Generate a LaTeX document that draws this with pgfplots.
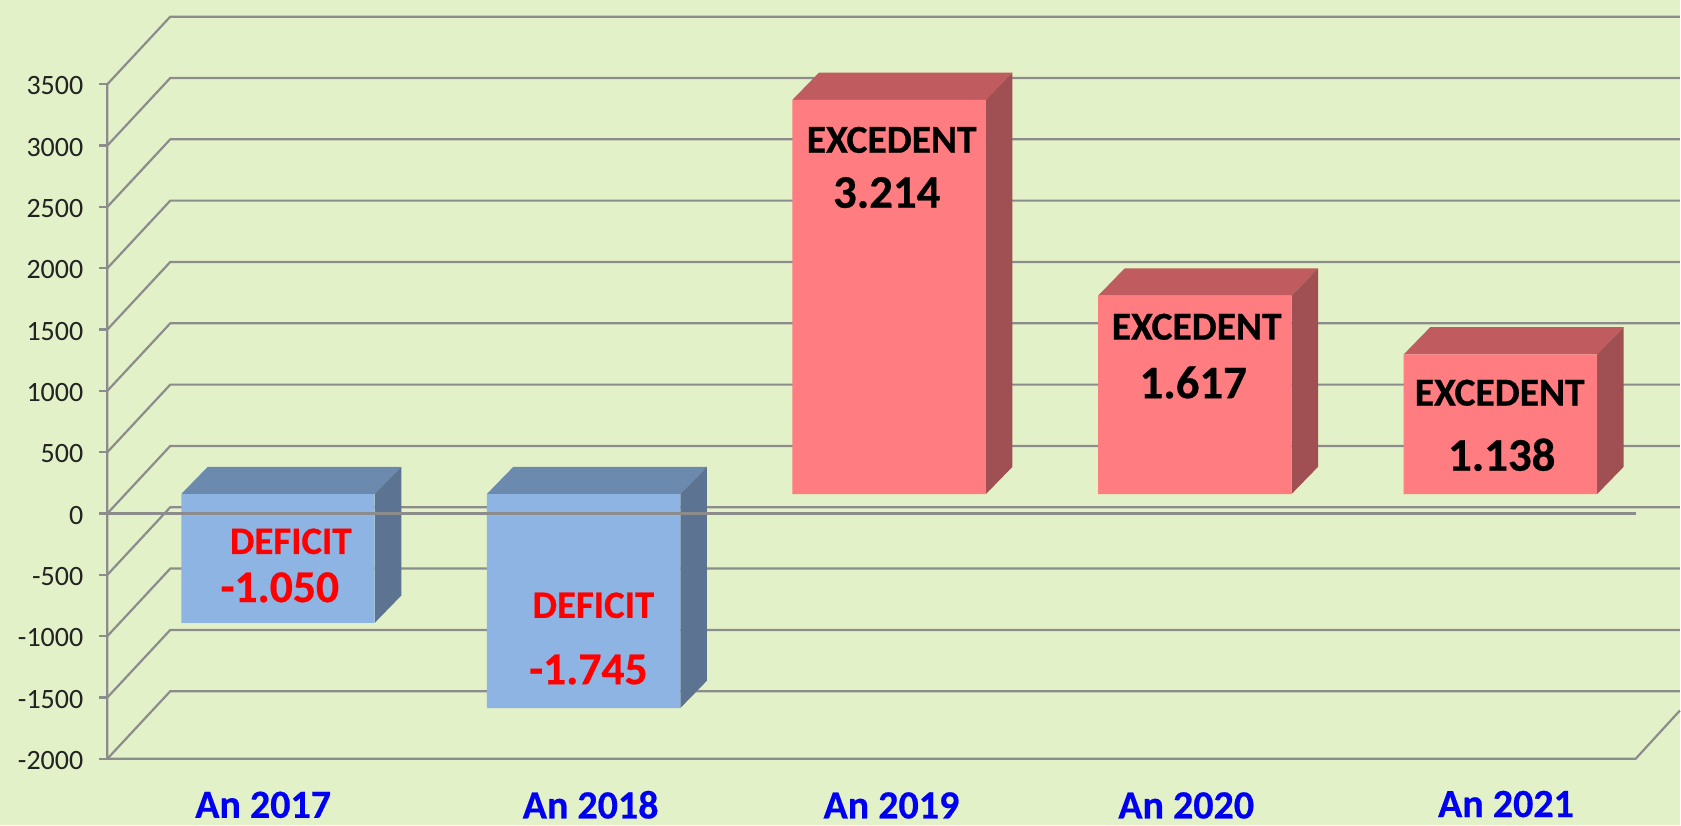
\documentclass[border=0pt]{standalone}
\usepackage{pgfplots}
\pgfplotsset{compat=1.18}
\usepackage{fontspec}
\setmainfont[BoldFeatures={FakeBold=0.5}]{Carlito}
\definecolor{bg}{HTML}{E3F1C8}
\definecolor{gridc}{HTML}{8C8C8C}
\definecolor{blF}{HTML}{8DB4E3}
\definecolor{blT}{HTML}{6C89AE}
\definecolor{blS}{HTML}{5C7492}
\definecolor{reF}{HTML}{FF7C80}
\definecolor{reT}{HTML}{C05C5F}
\definecolor{reS}{HTML}{A04F52}
\definecolor{tick}{HTML}{222222}
\definecolor{blueT}{HTML}{0000F0}
\pgfplotsset{shb/.style={yshift=9.75pt}}
% grid level: front value, back value
\newcommand{\gl}[2]{\addplot[gridc,line width=1.1pt,line join=miter] coordinates {(-0.5585,#1)(-0.3525,#2)(4.5874,#2)};}
% 3-D parts of a bar: x0 x0' x1 x1' T T' B B' colours
\newcommand{\topside}[9]{%
  \addplot[fill=#9T,draw=none,shb] coordinates {(#1,#5)(#2,#6)(#4,#6)(#3,#5)} --cycle;
  \addplot[fill=#9S,draw=none,shb] coordinates {(#3,#5)(#4,#6)(#4,#8)(#3,#7)} --cycle;
}
\newcommand{\lab}[5]{\node[font=\fontsize{#3}{#3}\selectfont\bfseries,text=#4,inner sep=0pt] at ({#1*0.5pt},{(826-#2)*0.5pt}) {#5};}
\newcommand{\xl}[2]{\raisebox{#1}[14pt][0pt]{#2}}
\begin{document}
\begin{tikzpicture}
\fill[bg] (0,0) rectangle (840.5pt,413pt);
\begin{axis}[
  at={(53.7pt,33.35pt)},anchor=south west,
  scale only axis,width=764.65pt,height=337.5pt,
  xmin=-0.5585,xmax=4.4425,ymin=-2000,ymax=3500,
  clip=false,
  axis line style={draw=none},
  xtick={-0.0487,1.0229,2.0072,2.9719,4.0183},
  xticklabels={\xl{-0.4pt}{An 2017},\xl{-0.7pt}{An 2018},\xl{-0.7pt}{An 2019},\xl{-0.7pt}{An 2020},\xl{0pt}{An 2021}},
  ytick={-2000,-1500,-1000,-500,0,500,1000,1500,2000,2500,3000,3500},
  yticklabels={-2000,-1500,-1000,-500,0,500,1000,1500,2000,2500,3000,3500},
  xtick pos=bottom,ytick pos=left,
  tick align=outside,
  major tick length=4pt,
  x tick style={draw=none},
  y tick style={gridc,line width=1.1pt},
  xticklabel style={font=\fontsize{20}{20}\selectfont\bfseries,text=blueT,yshift=-7.6pt},
  yticklabel style={font=\fontsize{14}{14}\selectfont,text=tick,xshift=-4.5pt,yshift=-0.8pt},
]
% walls
\gl{3500}{4051}
\gl{3000}{3551}
\gl{2500}{3051}
\gl{2000}{2551}
\gl{1500}{2051}
\gl{1000}{1551}
\gl{500}{1051}
\gl{0}{551}
\gl{-500}{51}
\gl{-1000}{-449}
\gl{-1500}{-949}
\gl{-2000}{-1449}
\addplot[gridc,line width=1.1pt] coordinates {(-0.5585,3500)(-0.5585,-2000)(4.4425,-2000)(4.5874,-1606)};
% bar tops and sides
\topside{-.3166}{-.2299}{.3166}{.4033}{0}{222}{-1050}{-828}{bl}
\topside{.6834}{.7701}{1.3166}{1.4033}{0}{222}{-1745}{-1523}{bl}
\topside{1.6834}{1.7701}{2.3166}{2.4033}{3214}{3436}{0}{222}{re}
\topside{2.6834}{2.7701}{3.3166}{3.4033}{1617}{1839}{0}{222}{re}
\topside{3.6834}{3.7701}{4.3166}{4.4033}{1138}{1360}{0}{222}{re}
% bar fronts
\addplot[ybar,bar width=96.8pt,bar shift=0pt,fill=blF,draw=none,shb] coordinates {(0,-1050)(1,-1745)};
\addplot[ybar,bar width=96.8pt,bar shift=0pt,fill=reF,draw=none,shb] coordinates {(2,3214)(3,1617)(4,1138)};
% zero line over the bars
\addplot[gridc,line width=1.3pt] coordinates {(-0.5585,0)(4.4425,0)};
\end{axis}
\lab{291}{541.7}{19.4}{red}{DEFICIT}
\lab{280}{587.7}{22.8}{red}{-1.050}
\lab{593.8}{605.7}{19.4}{red}{DEFICIT}
\lab{588.8}{670}{22.8}{red}{-1.745}
\lab{892.3}{140}{19.8}{black}{EXCEDENT}
\lab{887.3}{192.7}{23.4}{black}{3.214}
\lab{1197.5}{327}{19.8}{black}{EXCEDENT}
\lab{1194}{382.7}{23.4}{black}{1.617}
\lab{1500.7}{393}{19.8}{black}{EXCEDENT}
\lab{1502.7}{455}{23.4}{black}{1.138}
\end{tikzpicture}
\end{document}
